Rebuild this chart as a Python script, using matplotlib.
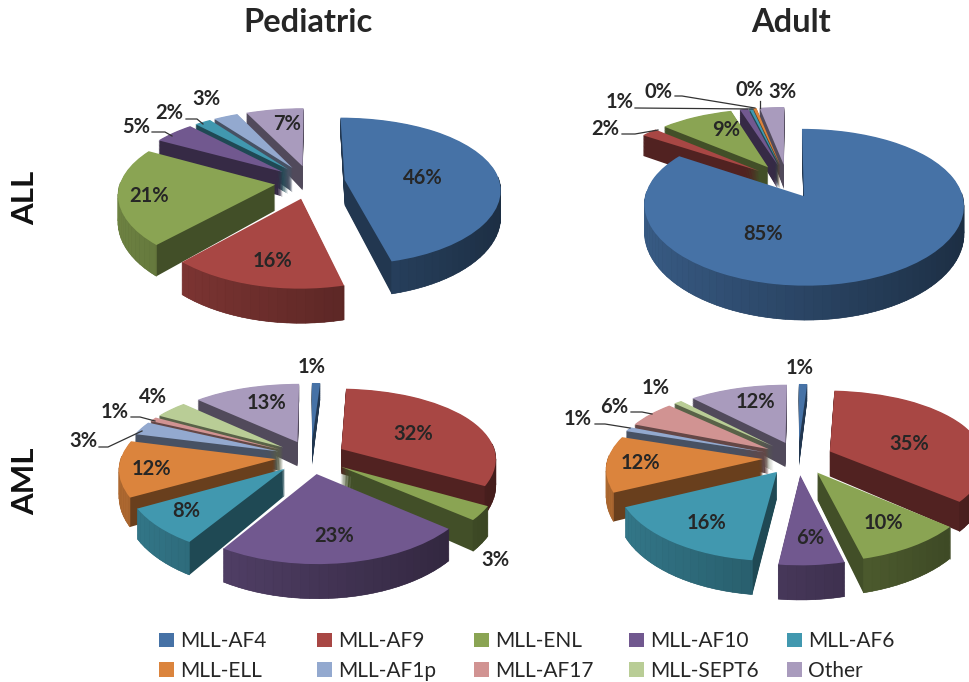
import numpy as np
import matplotlib
matplotlib.use("Agg")
import matplotlib.pyplot as plt
from matplotlib.patches import Patch, Polygon
from matplotlib.transforms import Transform, Affine2D

plt.rcParams['font.family'] = ['Lato', 'DejaVu Sans']

categories = ['MLL-AF4', 'MLL-AF9', 'MLL-ENL', 'MLL-AF10', 'MLL-AF6',
              'MLL-ELL', 'MLL-AF1p', 'MLL-AF17', 'MLL-SEPT6', 'Other']
colors = ['#4672a6', '#a84744', '#8aa453', '#71588f', '#4198af',
          '#db843d', '#93a9cf', '#d19392', '#b9cd96', '#a99bbd']

ped_all = [46, 16, 21, 5, 2, 0, 3, 0, 0, 7]
adult_all = [85, 2, 9, 1, 0.4, 0.4, 0, 0, 0, 3]
ped_aml = [1, 32, 3, 23, 8, 12, 3, 1, 4, 13]
adult_aml = [1, 35, 10, 6, 16, 12, 1, 6, 1, 12]

# pie centres and label centres in picture pixels
ped_all_xy = (310, 182)
adult_all_xy = (787, 181)
ped_aml_xy = (311, 457)
adult_aml_xy = (798, 458)

ped_all_labels = [(423, 178), (273, 261), (149, 196), (136, 127), (169, 113),
                  None, (206, 99), None, None, (287, 124)]
adult_all_labels = [(763, 234), (605, 129), (726, 130), (620, 102), (659, 92),
                    (750, 90), None, None, None, (782, 92)]
ped_aml_labels = [(312, 367), (413, 434), (495, 560), (334, 536), (186, 511),
                  (151, 469), (83, 441), (115, 412), (153, 397), (267, 403)]
adult_aml_labels = [(800, 368), (909, 444), (883, 523), (810, 538), (707, 523),
                    (640, 463), (578, 419), (614, 407), (656, 388), (755, 402)]

leaders = [
    [(152, 132), (165, 132), (172, 136)],
    [(186, 119), (197, 119), (203, 124)],
    [(622, 134), (635, 134), (658, 130)],
    [(635, 108), (753, 109)],
    [(675, 96), (682, 96), (755, 108)],
    [(760, 101), (760, 108)],
    [(99, 447), (108, 447), (142, 431)],
    [(131, 417), (140, 417), (155, 421)],
    [(595, 424), (605, 424), (630, 428)],
    [(631, 412), (642, 412), (652, 414)],
]

W, H = 970, 682
RX, RY = 155, 74     # pixels per unit
K = 0.15             # front of the pie is drawn bigger than the back
Q = 0.12             # same thing across
EXPLODE = 0.226
DEPTH = 0.33
LAYERS = 26
TEXT = '#262626'


def squash(y):
    return y - K * y * y


def unsquash(s):
    return (1 - np.sqrt(np.maximum(1 - 4 * K * s, 0))) / (2 * K)


def shade(color, f):
    return tuple(c * f for c in matplotlib.colors.to_rgb(color))


class Widen(Transform):
    input_dims = 2
    output_dims = 2

    def transform_non_affine(self, values):
        values = np.array(values, dtype=float)
        values[:, 0] = values[:, 0] * (1 - Q * values[:, 1])
        return values


def draw_pie(values, xy):
    x0, x1 = -1.4, 1.4
    y0, y1 = -1.7, 1.5
    top = xy[1] - squash(y1) * RY
    bottom = xy[1] - squash(y0) * RY
    ax = fig.add_axes([(xy[0] + x0 * RX) / W, 1 - bottom / H,
                       (x1 - x0) * RX / W, (bottom - top) / H])
    explode = [EXPLODE] * len(values)
    widen = Widen()

    # stack of dark pies for the cut faces, light pie on top
    for i in range(LAYERS + 1):
        dy = -DEPTH * (1 - i / LAYERS)
        is_top = i == LAYERS
        face = colors if is_top else [shade(c, 0.48) for c in colors]
        wedges, _ = ax.pie(values, explode=explode, colors=face, startangle=90,
                           counterclock=False, wedgeprops=dict(linewidth=0))
        for w in wedges:
            t = np.radians((w.theta1 + w.theta2) / 2)
            order = 1 - np.sin(t)
            w.set_zorder(order * 1000 + (900 if is_top else i))
            w.set_clip_on(False)
            w.set_transform(widen + Affine2D().translate(0, dy) + ax.transData)

    # outer rim, lighter on the left and darker on the right
    for w, c in zip(wedges, colors):
        t = np.radians((w.theta1 + w.theta2) / 2)
        order = 1 - np.sin(t)
        angles = np.arange(w.theta1, w.theta2 + 3, 3.0)
        angles[-1] = w.theta2
        for a, b in zip(angles[:-1], angles[1:]):
            if a >= b or np.sin(np.radians((a + b) / 2)) > 0.05:
                continue
            th = np.radians([a, b])
            py = w.center[1] + np.sin(th)
            px = (w.center[0] + np.cos(th)) * (1 - Q * py)
            f = 0.6 - 0.2 * np.cos(np.radians((a + b) / 2))
            ax.add_patch(Polygon([(px[0], py[0]), (px[1], py[1]),
                                  (px[1], py[1] - DEPTH), (px[0], py[0] - DEPTH)],
                                 facecolor=shade(c, f), edgecolor=shade(c, f),
                                 linewidth=0.4, clip_on=False,
                                 zorder=order * 1000 + 800))

    ax.set_aspect('auto')
    ax.set_yscale('function', functions=(squash, unsquash))
    ax.set_xlim(x0, x1)
    ax.set_ylim(y0, y1)
    ax.axis('off')
    return ax


fig = plt.figure(figsize=(W / 100, H / 100), dpi=100)

draw_pie(ped_all, ped_all_xy)
draw_pie(adult_all, adult_all_xy)
draw_pie(ped_aml, ped_aml_xy)
draw_pie(adult_aml, adult_aml_xy)

# overlay in picture pixels for the texts
over = fig.add_axes([0, 0, 1, 1], zorder=10)
over.set_xlim(0, W)
over.set_ylim(H, 0)
over.axis('off')

for values, places in [(ped_all, ped_all_labels), (adult_all, adult_all_labels),
                       (ped_aml, ped_aml_labels), (adult_aml, adult_aml_labels)]:
    for v, p in zip(values, places):
        if p is not None:
            over.text(p[0], p[1], f'{round(v)}%', ha='center', va='center',
                      fontsize=14.5, fontweight='bold', color=TEXT)

for line in leaders:
    over.plot([p[0] for p in line], [p[1] for p in line], color='#333333', lw=0.9)

over.text(308, 23, 'Pediatric', ha='center', va='center', fontsize=23.5,
          fontweight='bold', color=TEXT)
over.text(791, 23, 'Adult', ha='center', va='center', fontsize=23.5,
          fontweight='bold', color=TEXT)
over.text(25, 198, 'ALL', ha='center', va='center', rotation=90, fontsize=22.5,
          fontweight='bold', color='#111111')
over.text(25, 481, 'AML', ha='center', va='center', rotation=90, fontsize=22.5,
          fontweight='bold', color='#111111')

# one legend per column to keep the columns evenly spaced
col_x = [153, 311, 468, 623, 781]
for j, x in enumerate(col_x):
    idx = [j, j + 5]
    handles = [Patch(facecolor=colors[i], label=categories[i]) for i in idx]
    fig.legend(handles=handles, loc='upper left', bbox_to_anchor=(x / W, 1 - 625 / H),
               frameon=False, fontsize=15, handlelength=0.7, handleheight=0.7,
               handletextpad=0.3, labelspacing=0.47, borderpad=0.3, borderaxespad=0,
               labelcolor='#262626')

fig.savefig('out.png', dpi=100)
